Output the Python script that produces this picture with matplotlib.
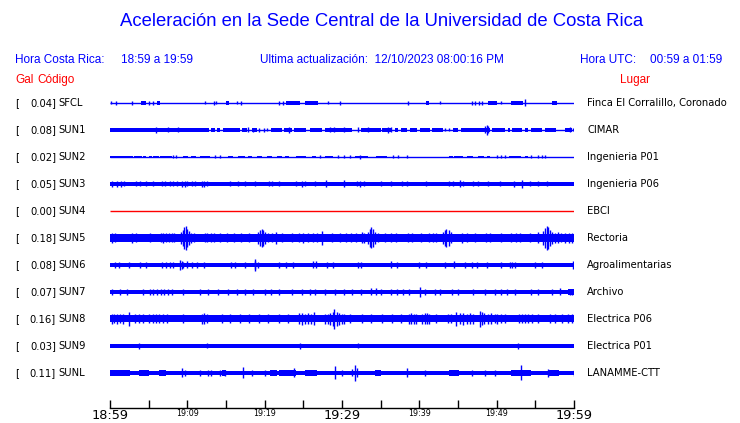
import matplotlib
matplotlib.use("Agg")
import matplotlib.pyplot as plt
import matplotlib.transforms as mtrans

# --- data (minutes after 18:59, half-amplitude in px) ---
codes = ["SFCL", "SUN1", "SUN2", "SUN3", "SUN4", "SUN5", "SUN6", "SUN7", "SUN8", "SUN9", "SUNL"]
gal = [0.04, 0.08, 0.02, 0.05, 0.00, 0.18, 0.08, 0.07, 0.16, 0.03, 0.11]
lugar = ["Finca El Corralillo, Coronado", "CIMAR", "Ingenieria P01", "Ingenieria P06", "EBCI",
         "Rectoria", "Agroalimentarias", "Archivo", "Electrica P06", "Electrica P01", "LANAMME-CTT"]
dead = ["SUN4"]

# continuous bands: (start, end, half)
seg_sfcl = [(4.0, 4.6, 1.7), (6.1, 6.5, 1.7), (15.0, 15.4, 1.7), (22.8, 24.6, 1.7), (25.2, 26.9, 1.7),
            (40.8, 41.2, 1.7), (48.9, 50.0, 1.7), (51.9, 53.4, 1.7), (57.2, 57.8, 1.7)]
seg_sun1 = [(0, 12.8, 1.7), (13.1, 13.6, 1.7), (13.8, 14.2, 1.7), (14.6, 16.8, 1.7), (17.1, 17.7, 1.8),
            (18.3, 19.0, 1.8), (20.8, 22.2, 1.7), (22.5, 23.5, 1.7), (23.8, 25.4, 1.7), (25.9, 27.4, 1.7),
            (27.8, 31.3, 1.7), (32.5, 35.1, 1.7), (35.2, 36.4, 1.8), (36.9, 37.3, 1.7), (37.6, 38.4, 1.7),
            (38.8, 39.7, 1.7), (40.1, 41.4, 1.7), (41.7, 43.0, 1.7), (44.4, 45.0, 1.7), (45.4, 48.3, 1.7),
            (48.4, 49.1, 1.8), (49.4, 51.1, 1.7), (51.5, 51.7, 1.7), (52.0, 53.3, 1.7), (53.7, 54.1, 1.7),
            (54.4, 55.9, 1.7), (56.3, 57.7, 1.7), (58.8, 59.7, 1.7)]
seg_sun2 = [(0, 3.0, 1.4), (3.1, 4.1, 1.4), (4.3, 4.7, 1.4), (5.0, 5.4, 1.4), (5.6, 6.3, 1.4), (6.5, 8.0, 1.4),
            (9.4, 10.1, 1.4), (10.5, 11.1, 1.4), (11.6, 12.9, 1.4), (15.3, 15.9, 1.4), (16.6, 17.5, 1.4),
            (17.9, 18.3, 1.4), (19.0, 19.6, 1.4), (20.3, 20.9, 1.4), (21.6, 22.2, 1.4), (22.6, 23.1, 1.4),
            (24.1, 25.4, 1.4), (26.1, 26.7, 1.4), (27.8, 28.9, 1.4), (31.7, 33.4, 1.4), (34.4, 35.8, 1.4),
            (43.8, 44.3, 1.4), (44.5, 45.7, 1.4), (46.1, 47.0, 1.4), (47.6, 48.3, 1.4), (48.7, 49.1, 1.4),
            (51.6, 53.2, 1.4), (53.7, 54.1, 1.4)]
seg_sun3 = [(0, 60, 2.0), (57.2, 60, 2.3)]
seg_sun4 = []
seg_sun5 = [(0, 60, 3.6)]
seg_sun6 = [(0, 60, 2.0)]
seg_sun7 = [(0, 60, 2.0), (59.2, 60, 2.6)]
seg_sun8 = [(0, 60, 3.5)]
seg_sun9 = [(0, 60, 1.9)]
seg_sunl = [(0, 60, 2.1), (0, 2.6, 2.8), (3.7, 5.0, 2.8), (6.4, 7.3, 2.8), (14.5, 15.0, 2.8), (20.7, 21.6, 2.8),
            (21.9, 24.0, 2.8), (25.2, 26.8, 2.8), (34.3, 35.1, 2.8), (43.8, 45.1, 2.8), (51.8, 54.5, 3.0),
            (56.7, 58.0, 2.8)]

# spikes: (time, half)
spk_sfcl = [(0.1, 1.5), (0.8, 2), (2.8, 2.2), (5.0, 2), (5.5, 2), (12.3, 1.5), (13.4, 2), (13.7, 1.5), (16.4, 1.5),
            (17.0, 2), (21.8, 2.2), (22.4, 2), (28.2, 1.5), (29.7, 2), (38.5, 2), (42.7, 1.5), (46.8, 2), (47.2, 2),
            (47.7, 2), (48.1, 2), (50.6, 1.5), (53.7, 3.5)]
spk_sun1 = [(6.0, 3), (7.5, 2.5), (8.8, 2.5), (17.9, 2.5), (18.5, 2), (19.3, 2), (19.9, 2), (20.3, 1.5), (23.2, 3),
            (28.5, 2.5), (29.0, 2.5), (30.3, 2.5), (32.1, 2.5), (33.4, 2.5), (36.0, 3), (36.4, 2.5), (43.3, 1.5),
            (43.8, 1.5), (48.5, 3.5), (48.7, 5), (48.9, 3.5), (59.5, 2.5), (59.9, 1.5)]
spk_sun2 = [(8.2, 1.5), (8.5, 1.5), (13.6, 1.5), (14.2, 1.5), (27.2, 1.5), (29.5, 1.5), (30.2, 1.5), (31.0, 1.5),
            (32.3, 2), (36.6, 1.5), (37.3, 1.5), (38.4, 1.5), (50.0, 1.5), (50.6, 1.5), (51.1, 1.5), (54.5, 1.5),
            (55.4, 1.5), (55.8, 1.5), (56.3, 1.5)]
spk_sun3 = [(0.3, 3), (0.9, 3.3), (1.4, 3), (1.8, 2.5), (3.4, 2.5), (3.9, 2.5), (4.7, 2.5), (5.6, 2.5), (6.7, 2.5),
            (7.1, 2.5), (7.8, 2.5), (8.2, 2.5), (8.6, 2.5), (9.3, 3), (9.7, 3), (9.9, 2.5), (10.6, 2.5), (11.0, 2.5),
            (11.9, 3), (12.2, 3), (12.5, 2.5), (15.5, 2.5), (16.6, 2.5), (17.5, 2.5), (18.8, 2.5), (20.5, 2.5),
            (20.9, 2.5), (21.8, 2.5), (24.1, 2.5), (24.8, 3), (25.2, 2.5), (26.5, 2.5), (27.9, 3.5), (30.2, 3.5),
            (31.9, 2.5), (32.3, 3), (32.8, 2.5), (35.1, 2.5), (36.4, 2.5), (37.7, 2.5), (38.4, 2.5), (40.9, 2.5),
            (43.9, 2.5), (44.4, 2.5), (45.3, 3.5), (45.6, 2.5), (47.0, 2.5), (47.6, 2.5), (48.9, 2.5), (50.4, 2.5),
            (52.2, 3), (53.3, 4), (54.3, 2.5), (55.4, 2.5), (56.5, 2.5)]
spk_sun4 = []
spk_sun5 = [(9.2, 6), (9.4, 8), (9.6, 11), (9.8, 12), (10.0, 9), (10.2, 7), (10.5, 5), (10.8, 4.5),
            (19.2, 6), (19.4, 8), (19.6, 9), (19.8, 8), (20.1, 6), (20.4, 4.5), (21.5, 6), (25.6, 4.5), (27.4, 7),
            (32.6, 5.5), (32.9, 5), (33.3, 6), (33.6, 9), (33.8, 10.5), (34.0, 9), (34.3, 6), (34.6, 4.5),
            (43.0, 6), (43.3, 8), (43.5, 9), (43.8, 8), (44.1, 5.5), (45.5, 5), (55.4, 5.5),
            (56.0, 7), (56.3, 10), (56.5, 12), (56.7, 11), (56.9, 8), (57.2, 6), (57.6, 5),
            (0.3, 5), (0.7, 4.5), (2.9, 5), (3.4, 4.5), (5.2, 4.5), (6.6, 4.5), (6.8, 5), (7.2, 4.5), (7.6, 4.5),
            (8.0, 4.5), (8.3, 4.5), (12.3, 4.5), (12.5, 4.5), (13.0, 4.5), (13.5, 4.5), (14.2, 4.5), (15.1, 4.5),
            (16.0, 4.5), (17.0, 4.5), (18.0, 4.5), (21.0, 4.5), (22.3, 4.5), (23.5, 4.5), (24.5, 4.5), (25.0, 5),
            (26.3, 4.5), (26.8, 4.5), (28.7, 4.5), (29.8, 4.5), (30.5, 4.5), (31.1, 4.5), (31.8, 4.5), (35.6, 4.5),
            (36.3, 4.5), (37.0, 4.5), (38.5, 4.5), (39.0, 4.5), (40.2, 4.5), (41.3, 4.5), (41.8, 4.5), (42.1, 4.5),
            (46.2, 4.5), (47.2, 4.5), (48.6, 4.5), (49.2, 4.5), (50.5, 4.5), (51.8, 4.5), (52.5, 4.5), (53.0, 4.5),
            (54.3, 4.5), (57.9, 5.5), (58.3, 4.5), (58.8, 5), (59.3, 5), (59.7, 5)]
spk_sun6 = [(0.7, 3), (1.1, 3), (2.4, 3), (3.9, 3), (4.7, 3), (6.7, 3), (7.3, 3), (7.8, 3), (8.2, 3), (9.1, 5),
            (9.3, 4), (9.5, 3), (9.9, 3.5), (10.6, 3), (11.2, 3), (12.1, 3), (15.7, 3), (16.2, 3), (17.5, 3),
            (18.7, 6), (18.8, 4), (19.2, 3), (21.8, 3), (22.8, 3), (23.7, 3), (26.3, 3.5), (26.6, 3.5), (28.0, 3),
            (28.9, 3), (32.1, 3), (32.5, 3), (36.4, 3.5), (37.1, 3), (39.9, 3), (40.9, 3), (43.3, 3), (44.5, 3.5),
            (45.9, 3), (46.8, 3), (47.4, 3), (48.7, 3), (50.6, 3), (51.7, 3), (52.0, 3), (52.4, 3), (55.0, 3),
            (55.8, 3), (59.9, 4)]
spk_sun7 = [(0.2, 2.8), (1.3, 2.8), (2.2, 2.8), (4.3, 2.8), (5.2, 2.8), (5.6, 2.8), (6.1, 2.8), (6.6, 2.8),
            (7.0, 2.8), (7.5, 2.8), (8.0, 2.8), (9.5, 2.8), (11.6, 2.8), (12.7, 2.8), (14.0, 2.8), (15.3, 2.8),
            (16.4, 2.8), (17.5, 2.8), (18.5, 2.8), (20.0, 2.8), (20.8, 2.8), (21.8, 2.8), (23.5, 2.8), (24.8, 2.8),
            (25.9, 2.8), (26.5, 2.8), (27.8, 2.8), (29.1, 2.8), (30.2, 2.8), (31.3, 2.8), (32.5, 2.8), (33.8, 3.5),
            (34.4, 3.5), (35.1, 3), (36.4, 2.8), (37.1, 2.8), (37.9, 2.8), (38.6, 2.8), (40.1, 5), (40.7, 2.8),
            (42.0, 2.8), (42.7, 2.8), (44.2, 2.8), (45.0, 2.8), (47.0, 3), (48.5, 2.8), (49.8, 2.8), (50.6, 2.8),
            (51.3, 2.8), (52.4, 2.8), (54.5, 2.8), (55.4, 2.8), (57.1, 2.8), (58.2, 3.5), (59.5, 3), (59.8, 3)]
spk_sun8 = [(2.4, 7), (3.7, 4.5), (21.8, 4.5), (26.4, 6.5), (27.8, 5), (29.0, 10), (29.3, 7), (30.3, 5), (38.6, 5),
            (40.7, 5.5), (42.2, 4.5), (44.8, 7), (47.8, 8), (48.1, 6.5), (50.0, 5), (53.7, 4.5), (55.4, 4.5),
            (0.2, 5), (0.5, 4.5), (0.9, 5), (1.3, 4.5), (1.7, 5), (3.2, 4.5), (4.3, 4.5), (5.1, 4.5), (5.5, 4.5),
            (6.0, 4.5), (6.4, 4.5), (6.9, 4.5), (7.4, 4.5), (9.5, 4.5), (11.9, 5), (12.2, 5.5), (12.5, 4.5),
            (14.5, 4.5), (15.5, 4.5), (16.8, 4.5), (18.0, 4.5), (19.3, 4.5), (20.4, 4.5), (23.0, 4.5), (24.4, 5.5),
            (24.8, 6), (25.2, 5), (25.6, 5.5), (26.0, 5), (28.2, 5), (28.5, 6), (28.8, 7), (29.6, 6), (30.0, 5),
            (31.0, 4.5), (32.6, 4.5), (33.8, 4.5), (35.2, 4.5), (36.5, 4.5), (37.6, 4.5), (38.9, 5.5), (39.3, 5),
            (39.6, 5), (40.3, 5), (41.0, 5.5), (41.3, 5), (43.7, 4.5), (44.1, 4.5), (45.2, 5.5), (45.6, 6),
            (46.1, 5), (46.5, 5.5), (47.0, 5), (48.4, 5.5), (48.9, 5), (49.3, 5.5), (49.8, 4.5), (50.5, 4.5),
            (51.1, 4.5), (52.9, 4.5), (53.3, 4.5), (54.1, 4.5), (54.6, 4.5), (56.9, 4.5), (57.5, 4.5), (58.4, 4.5),
            (59.2, 4.5), (59.7, 4.5)]
spk_sun9 = [(3.7, 3), (12.5, 2.5), (24.6, 3), (32.1, 2.5), (52.8, 3)]
spk_sunl = [(9.3, 4.5), (9.7, 3), (11.6, 3), (12.7, 3), (13.1, 3), (14.2, 3), (14.9, 3), (17.2, 5.5), (18.3, 3),
            (20.0, 3), (23.8, 4.5), (29.1, 6.5), (30.0, 3), (31.3, 3.5), (31.7, 8), (31.9, 4.5), (38.4, 4.5),
            (40.7, 3), (46.8, 3), (48.5, 3), (49.8, 3), (53.1, 7.5), (56.7, 4), (60.0, 3)]

segs = [seg_sfcl, seg_sun1, seg_sun2, seg_sun3, seg_sun4, seg_sun5, seg_sun6, seg_sun7, seg_sun8, seg_sun9, seg_sunl]
spks = [spk_sfcl, spk_sun1, spk_sun2, spk_sun3, spk_sun4, spk_sun5, spk_sun6, spk_sun7, spk_sun8, spk_sun9, spk_sunl]

start_min = 18 * 60 + 59
duration = 60
tick_step = 5

W, H = 740, 423
fig = plt.figure(figsize=(W / 100, H / 100), dpi=100)
ax = fig.add_axes([110 / W, (H - 408) / H, 464 / W, (408 - 90) / H])
ax.set_xlim(0, duration)
ax.set_ylim(408, 90)  # pixel rows

lab = mtrans.blended_transform_factory(fig.transFigure, ax.transData)
for i, code in enumerate(codes):
    yc = 103 + 27 * i
    col = "red" if code in dead else "blue"
    ax.hlines(yc, 0, duration, color=col, lw=1.0)
    if segs[i]:
        x0 = [s[0] for s in segs[i]]
        w = [s[1] - s[0] for s in segs[i]]
        h = [s[2] for s in segs[i]]
        ax.bar(x0, [2 * v for v in h], width=w, bottom=[yc - v for v in h], align="edge",
               color=col, linewidth=0)
    if spks[i]:
        t = [s[0] for s in spks[i]]
        a = [s[1] for s in spks[i]]
        ax.vlines(t, [yc - v for v in a], [yc + v for v in a], color=col, lw=1.0)

    ax.text(15 / W, yc, "[", transform=lab, ha="left", va="center", fontsize=7.2, color="black")
    ax.text(56 / W, yc, "%.2f]" % gal[i], transform=lab, ha="right", va="center", fontsize=7.2)
    ax.text(58.5 / W, yc, code, transform=lab, ha="left", va="center", fontsize=7.2)
    ax.text(587 / W, yc, lugar[i], transform=lab, ha="left", va="center", fontsize=7.2)

for s in ["top", "left", "right"]:
    ax.spines[s].set_visible(False)
ax.spines["bottom"].set_linewidth(1.0)
ax.set_yticks([])

ticks = list(range(0, duration + 1, tick_step))
labels = []
for t in ticks:
    m = start_min + t
    labels.append("%d:%02d" % (m // 60, m % 60) if t % 10 == 0 else "")
ax.set_xticks(ticks)
ax.set_xticklabels(labels)
ax.tick_params(axis="x", direction="in", length=5.8, width=1.0, pad=1)
for t, tl in zip(ticks, ax.get_xticklabels()):
    tl.set_fontsize(9.3 if t % 30 == 0 else 5.8)

hf = "Liberation Sans"
def ftext(x, y, s, **kw):
    fig.text(x / W, 1 - y / H, s, va="center", family=hf, **kw)

ftext(382, 22, "Aceleración en la Sede Central de la Universidad de Costa Rica", ha="center",
      fontsize=13.3, color="blue")
ftext(15, 60, "Hora Costa Rica:", fontsize=8.5, color="blue")
ftext(121, 60, "18:59 a 19:59", fontsize=8.5, color="blue")
ftext(260, 60, "Ultima actualización:  12/10/2023 08:00:16 PM", fontsize=8.5, color="blue")
ftext(580, 60, "Hora UTC:", fontsize=8.5, color="blue")
ftext(650, 60, "00:59 a 01:59", fontsize=8.5, color="blue")
ftext(15, 80, "Gal", fontsize=8.5, color="red")
ftext(37, 80, "Código", fontsize=8.5, color="red")
ftext(620, 80, "Lugar", fontsize=8.5, color="red")

fig.savefig("out.png", dpi=100)
